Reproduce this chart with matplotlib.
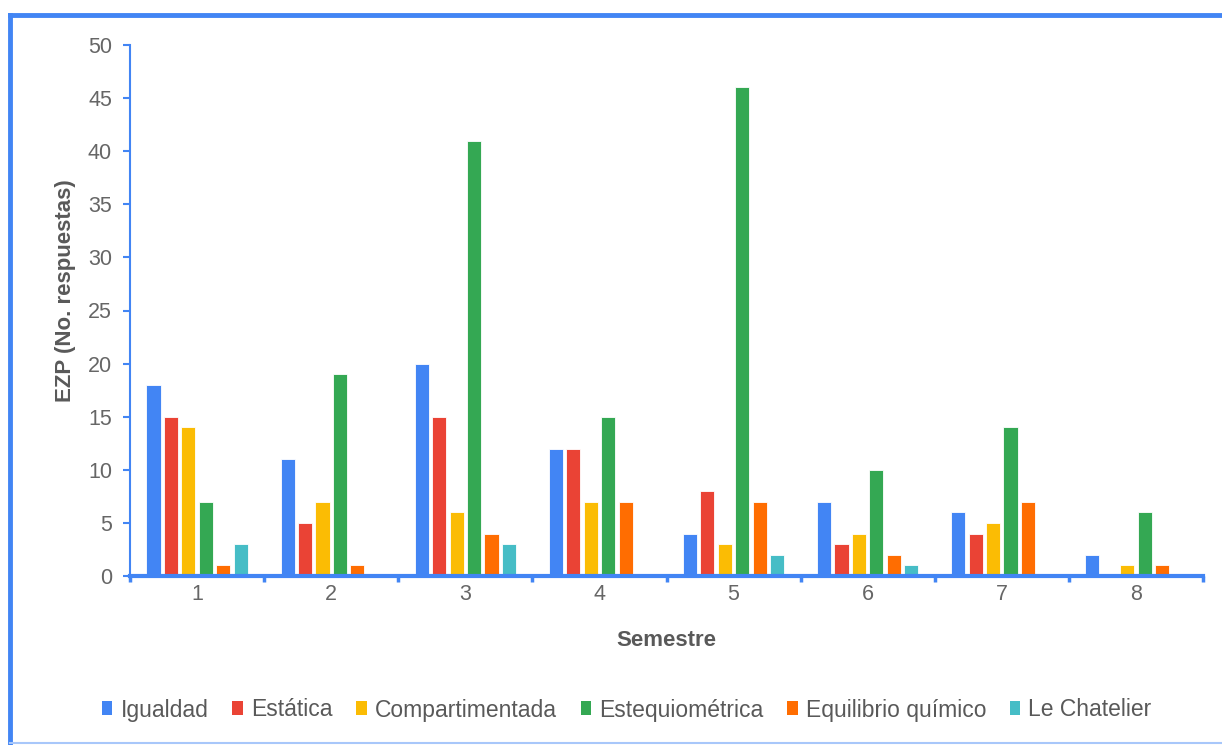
import matplotlib
matplotlib.use("Agg")
import matplotlib.pyplot as plt
from matplotlib.lines import Line2D
from matplotlib.patches import Patch
import numpy as np

plt.rcParams['font.family'] = ['Liberation Sans', 'DejaVu Sans']

semestres = ['1', '2', '3', '4', '5', '6', '7', '8']
series_names = ['Igualdad', 'Estática', 'Compartimentada', 'Estequiométrica',
                'Equilibrio químico', 'Le Chatelier']
igualdad = [18, 11, 20, 12, 4, 7, 6, 2]
estatica = [15, 5, 15, 12, 8, 3, 4, 0]
compartimentada = [14, 7, 6, 7, 3, 4, 5, 1]
estequiometrica = [7, 19, 41, 15, 46, 10, 14, 6]
equilibrio = [1, 1, 4, 7, 7, 2, 7, 1]
le_chatelier = [3, 0, 3, 0, 2, 1, 0, 0]
colors = ['#4285F4', '#EA4335', '#FBBC04', '#34A853', '#FF6D01', '#46BDC6']
y_ticks = [0, 5, 10, 15, 20, 25, 30, 35, 40, 45, 50]

all_series = [igualdad, estatica, compartimentada, estequiometrica, equilibrio, le_chatelier]

W, H = 1222, 745
fig = plt.figure(figsize=(W / 100, H / 100), dpi=100)
ax = fig.add_axes([130 / W, 1 - 576 / H, (1203 - 130) / W, (576 - 45) / H])

x = np.arange(len(semestres))
slot = 0.13
bw = 0.105
for i, (vals, c) in enumerate(zip(all_series, colors)):
    offs = (i - 2.5) * slot
    ax.bar(x + offs, vals, width=bw, color=c, edgecolor='white', linewidth=0.6, zorder=2)

ax.set_xlim(-0.5, len(semestres) - 0.5)
ax.set_ylim(0, 50)
ax.set_yticks(y_ticks)
ax.set_xticks(x)
ax.set_xticklabels(semestres)
ax.set_xticks(np.arange(-0.5, len(semestres)), minor=True)
ax.tick_params(axis='x', which='major', length=0, colors='#666666', labelsize=15.5, pad=6)
ax.tick_params(axis='x', which='minor', length=4, width=2.5, color='#4285F4')
ax.tick_params(axis='y', length=5, width=1.5, color='#4285F4', labelcolor='#666666',
               labelsize=15.5, pad=8)

for s in ['top', 'right']:
    ax.spines[s].set_visible(False)
ax.spines['left'].set_color('#4285F4')
ax.spines['left'].set_linewidth(1.5)
ax.spines['bottom'].set_color('#4285F4')
ax.spines['bottom'].set_linewidth(3)

ax.set_ylabel('EZP (No. respuestas)', fontsize=16, fontweight='bold', color='#595959')
ax.yaxis.set_label_coords(-65 / (1203 - 130), (576 - 291) / (576 - 45))
ax.set_xlabel('Semestre', fontsize=16, fontweight='bold', color='#595959')
ax.xaxis.set_label_coords(0.5, -(640 - 576) / (576 - 45))
ax.xaxis.label.set_va('center')
ax.yaxis.label.set_va('center')

handles = [Patch(facecolor=c, edgecolor='none') for c in colors]
fig.legend(handles, series_names, loc='center', bbox_to_anchor=(0.513, 1 - 710 / H),
           ncol=6, frameon=False, fontsize=16.5, handlelength=0.45, handleheight=0.55,
           handletextpad=0.35, columnspacing=1.05, labelcolor='#595959')

# frame border
fig.add_artist(Line2D([10 / W, 1], [1 - 15 / H, 1 - 15 / H], color='#4285F4', lw=3.5,
                      transform=fig.transFigure))
fig.add_artist(Line2D([10 / W, 10 / W], [1 - 15 / H, 1 - 743 / H], color='#4285F4', lw=3.5,
                      transform=fig.transFigure))
fig.add_artist(Line2D([10 / W, 1], [1 - 743 / H, 1 - 743 / H], color='#A8C7FA', lw=1.5,
                      transform=fig.transFigure))

fig.savefig('out.png', dpi=100)
